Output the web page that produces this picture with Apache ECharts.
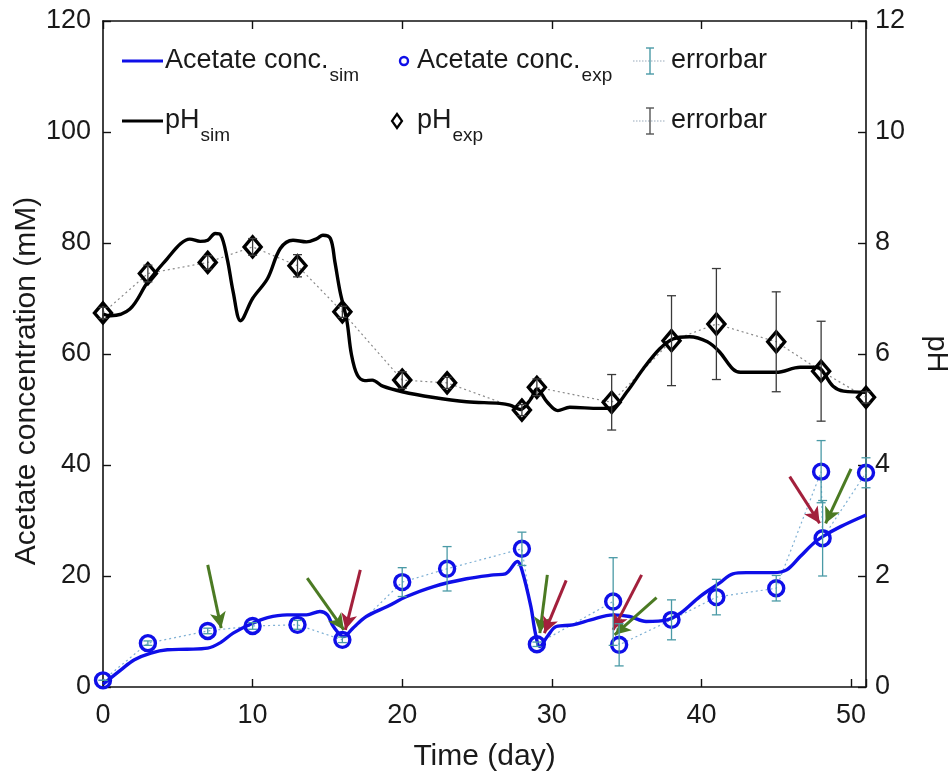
<!DOCTYPE html>
<html><head><meta charset="utf-8">
<script src="https://cdn.jsdelivr.net/npm/echarts@6/dist/echarts.min.js"></script>
<style>html,body{margin:0;padding:0;background:#fff}#c{width:949px;height:772px}</style>
</head><body><div id="c"></div>
<script>
// ---- data ----
const phSimDays = [0,0.5,1.8,3,4.3,5.2,5.8,6.5,7,7.5,7.85,8.3,8.7,9.2,10,11,11.85,12.7,13.6,14.3,14.7,15.2,15.5,15.85,16.3,16.6,17,17.5,18,18.7,20,22,24.3,26.5,27.2,27.9,28.6,29,29.7,30.4,31.2,33.2,34.1,35,36.1,37.2,38.1,39.2,40.4,41.2,42.1,42.6,45,46.6,47.7,48.8,49.5,51];
const phSimVals = [6.72,6.69,6.81,7.3,7.72,7.99,8.07,8.03,8.05,8.17,8.15,7.72,7.12,6.6,7.0,7.36,7.9,8.05,8.02,8.08,8.14,8.08,7.66,7.12,6.6,6.0,5.62,5.52,5.53,5.42,5.32,5.22,5.14,5.11,5.08,5.0,5.19,5.37,5.13,4.98,5.04,5.02,5.04,5.31,5.73,6.09,6.27,6.31,6.22,6.04,5.73,5.67,5.67,5.76,5.76,5.42,5.33,5.31];

const acSimDays = [0,1.2,2.1,3.2,4.3,5.6,7,7.85,8.7,9.85,11,12.3,13.6,14.5,15,15.4,16.1,16.7,17.6,19,20.3,22.1,24.3,26.1,26.9,27.7,28,28.6,28.9,29.2,29.7,30.3,31.4,32.6,34.1,35.2,36.3,37.7,38.6,39.9,41.2,42.1,43,44.8,45.7,46.6,47.5,48.1,49.3,51];
const acSimVals = [0.5,3.1,4.9,6.1,6.7,6.8,7.0,8.0,9.7,11.3,12.5,13.0,13.0,13.6,13.0,10.9,9.1,10.6,12.7,14.5,16.3,18.1,19.5,20.2,20.4,22.6,21.1,14.5,9.7,7.3,9.1,10.9,11.2,12.1,13.0,12.7,11.8,12.1,13.3,16.3,18.7,20.4,20.6,20.6,21.1,23.5,25.9,27.1,28.9,31.0];

const acExpDays = [0,3,7,10,13,16,20,23,28,29,34.1,34.5,38,41,45,48,48.1,51];
const acExpVals = [1.2,7.9,10.1,11.0,11.2,8.5,18.9,21.3,24.9,7.7,15.4,7.6,12.1,16.2,17.8,38.8,26.8,38.6];
const acExpErr  = [0,0.4,0.5,0.6,0.8,0.5,2.6,4.0,3.0,0.4,7.9,3.8,3.6,3.2,2.3,5.6,6.8,2.7];

const phExpDays = [0,3,7,10,13,16,20,23,28,29,34,38,41,45,48,51];
const phExpVals = [6.74,7.45,7.65,7.93,7.59,6.76,5.53,5.48,4.99,5.40,5.13,6.24,6.54,6.22,5.69,5.22];
const phExpErr  = [0.1,0.15,0.12,0.15,0.2,0.1,0.15,0.1,0.1,0.15,0.5,0.81,1.0,0.9,0.9,0.1];

// annotation arrows [day1, conc1, day2, conc2]
const greenArrows = [[7.0,22.0,7.9,10.6],[13.65,19.6,16.1,10.3],[29.7,20.2,29.2,9.7],[37.0,16.1,34.2,9.4],[50.0,39.3,48.3,29.5]];
const redArrows   = [[17.2,21.1,16.2,10.3],[30.96,19.2,29.5,9.7],[36.0,20.2,34.1,10.3],[45.9,37.9,47.9,29.5]];

const xTicks = [0,10,20,30,40,50];

// ---- build ----
const zip2 = (a,b)=>a.map((v,i)=>[v,b[i]]);
const zip3 = (a,b,c)=>a.map((v,i)=>[v,b[i],c[i]]);
const FONT = "'Liberation Sans', Arial, sans-serif";
const BLUE = '#0f0fe8';
const TEAL = '#4a9aa6';
const ERRBLK = '#3a3a3a';
const TXT = '#1a1a1a';

const mctx = document.createElement('canvas').getContext('2d');
function textW(t, size){ mctx.font = size + "px 'Liberation Sans', Arial, sans-serif"; return mctx.measureText(t).width; }

function errRender(color){
  return function(params, api){
    const x = api.value(0), y = api.value(1), e = api.value(2);
    const t = api.coord([x, y+e]), b = api.coord([x, y-e]);
    const w = 4.5;
    const st = {stroke: color, lineWidth: 1.3};
    return {type:'group', children:[
      {type:'line', shape:{x1:t[0],y1:t[1],x2:b[0],y2:b[1]}, style:st},
      {type:'line', shape:{x1:t[0]-w,y1:t[1],x2:t[0]+w,y2:t[1]}, style:st},
      {type:'line', shape:{x1:b[0]-w,y1:b[1],x2:b[0]+w,y2:b[1]}, style:st}
    ]};
  };
}
function arrowLines(list){
  return list.map(a=>[{coord:[a[0],a[1]]},{coord:[a[2],a[3]]}]);
}

const chart = echarts.init(document.getElementById('c'), null, {renderer:'canvas'});
const axisCommon = {
  axisLine:{show:true, onZero:false, lineStyle:{color:'#111', width:1.6}},
  splitLine:{show:false}
};
const MAINSZ = 27, SUBSZ = 19;
function legText(x,y,main,sub){
  const w = textW(main, MAINSZ);
  return [
    {type:'text', x:x, y:y, z:100, style:{text:main, fontSize:MAINSZ, fontFamily:FONT, fill:TXT, verticalAlign:'middle', align:'left'}},
    {type:'text', x:x+w+1, y:y+15, z:100, style:{text:sub, fontSize:SUBSZ, fontFamily:FONT, fill:TXT, verticalAlign:'middle', align:'left'}}
  ];
}
function errIcon(x,y,color){
  return {type:'group', z:100, children:[
    {type:'line', shape:{x1:x-17,y1:y,x2:x+15,y2:y}, style:{stroke:'#9ab', lineWidth:1, lineDash:[1.5,1.5]}},
    {type:'line', shape:{x1:x,y1:y-13,x2:x,y2:y+13}, style:{stroke:color, lineWidth:1.4}},
    {type:'line', shape:{x1:x-4,y1:y-13,x2:x+4,y2:y-13}, style:{stroke:color, lineWidth:1.4}},
    {type:'line', shape:{x1:x-4,y1:y+13,x2:x+4,y2:y+13}, style:{stroke:color, lineWidth:1.4}}
  ]};
}

const option = {
  animation:false,
  backgroundColor:'#fff',
  grid:{left:103, right:83, top:21, bottom:85, outerBoundsMode:'none', containLabel:false},
  xAxis:[
    Object.assign({type:'value', min:0, max:51, interval:10, position:'bottom',
      name:'Time (day)', nameLocation:'middle', nameGap:55,
      nameTextStyle:{fontSize:30, fontFamily:FONT, color:TXT},
      axisTick:{inside:true, length:8, lineStyle:{color:'#111', width:1.4}},
      axisLabel:{fontSize:27, fontFamily:FONT, color:TXT, margin:15,
        formatter:v=> xTicks.indexOf(v)>=0 ? String(v) : ''}}, axisCommon),
    Object.assign({type:'value', min:0, max:51, interval:10, position:'top',
      axisTick:{inside:true, length:8, lineStyle:{color:'#111', width:1.4}},
      axisLabel:{show:false}}, axisCommon)
  ],
  yAxis:[
    Object.assign({type:'value', min:0, max:120, interval:20, position:'left',
      axisTick:{inside:true, length:8, lineStyle:{color:'#111', width:1.4}},
      axisLabel:{fontSize:27, fontFamily:FONT, color:TXT, margin:12}}, axisCommon),
    Object.assign({type:'value', min:0, max:12, interval:2, position:'right',
      name:'pH', nameLocation:'middle', nameGap:55, nameRotate:-90,
      nameTextStyle:{fontSize:29, fontFamily:FONT, color:TXT},
      axisTick:{inside:true, length:8, lineStyle:{color:'#111', width:1.4}},
      axisLabel:{fontSize:27, fontFamily:FONT, color:TXT, margin:9}}, axisCommon)
  ],
  graphic:[].concat(
    [{type:'text', x:27, y:381, rotation:Math.PI/2, z:100,
      style:{text:'Acetate concentration (mM)', fontSize:30, fontFamily:FONT, fill:TXT, align:'center', verticalAlign:'middle'}}],
    [{type:'line', z:100, shape:{x1:122,y1:61,x2:163,y2:61}, style:{stroke:BLUE, lineWidth:3}}],
    legText(165,61,'Acetate conc.','sim'),
    [{type:'circle', z:100, shape:{cx:404,cy:61,r:4}, style:{fill:'none', stroke:BLUE, lineWidth:2.4}}],
    legText(417,61,'Acetate conc.','exp'),
    [errIcon(650,61,TEAL),
     {type:'text', z:100, x:671, y:61, style:{text:'errorbar', fontSize:MAINSZ, fontFamily:FONT, fill:TXT, verticalAlign:'middle'}},
     {type:'line', z:100, shape:{x1:122,y1:121,x2:163,y2:121}, style:{stroke:'#000', lineWidth:3}}],
    legText(165,121,'pH','sim'),
    [{type:'polygon', z:100, shape:{points:[[397,114],[402,121],[397,128],[392,121]]}, style:{fill:'none', stroke:'#000', lineWidth:2.2}}],
    legText(417,121,'pH','exp'),
    [errIcon(650,121,'#555'),
     {type:'text', z:100, x:671, y:121, style:{text:'errorbar', fontSize:MAINSZ, fontFamily:FONT, fill:TXT, verticalAlign:'middle'}}]
  ),
  series:[
    {type:'line', xAxisIndex:0, yAxisIndex:0, data:zip2(acExpDays,acExpVals), symbol:'none',
      lineStyle:{color:'#7fb0d4', width:1.2, type:[2,3]}, z:2},
    {type:'line', xAxisIndex:0, yAxisIndex:1, data:zip2(phExpDays,phExpVals), symbol:'none',
      lineStyle:{color:'#8a8a8a', width:1.2, type:[2,3]}, z:2},
    {type:'line', xAxisIndex:0, yAxisIndex:0, data:zip2(acSimDays,acSimVals), symbol:'none', smooth:0.35,
      lineStyle:{color:BLUE, width:3.4}, z:3,
      markLine:{silent:true, symbol:['none','arrow'], symbolSize:[12,16], label:{show:false},
        lineStyle:{color:'#4b7a23', width:3, type:'solid'}, data:arrowLines(greenArrows)}},
    {type:'line', xAxisIndex:0, yAxisIndex:1, data:zip2(phSimDays,phSimVals), symbol:'none', smooth:0.35,
      lineStyle:{color:'#000', width:3.4}, z:3},
    {type:'line', xAxisIndex:0, yAxisIndex:0, data:[], symbol:'none',
      markLine:{silent:true, symbol:['none','arrow'], symbolSize:[12,16], label:{show:false},
        lineStyle:{color:'#a3203c', width:3, type:'solid'}, data:arrowLines(redArrows)}},
    {type:'scatter', xAxisIndex:0, yAxisIndex:0, data:zip2(acExpDays,acExpVals), symbol:'circle', symbolSize:15,
      itemStyle:{color:'rgba(255,255,255,0)', borderColor:BLUE, borderWidth:3.4, opacity:1}, z:4},
    {type:'scatter', xAxisIndex:0, yAxisIndex:1, data:zip2(phExpDays,phExpVals), symbol:'diamond', symbolSize:[17,20],
      itemStyle:{color:'rgba(255,255,255,0)', borderColor:'#000', borderWidth:3.4, opacity:1}, z:4},
    {type:'custom', xAxisIndex:0, yAxisIndex:0, data:zip3(acExpDays,acExpVals,acExpErr),
      renderItem:errRender(TEAL), encode:{x:0,y:1}, z:5},
    {type:'custom', xAxisIndex:0, yAxisIndex:1, data:zip3(phExpDays,phExpVals,phExpErr),
      renderItem:errRender(ERRBLK), encode:{x:0,y:1}, z:5}
  ]
};
chart.setOption(option);
</script></body></html>
